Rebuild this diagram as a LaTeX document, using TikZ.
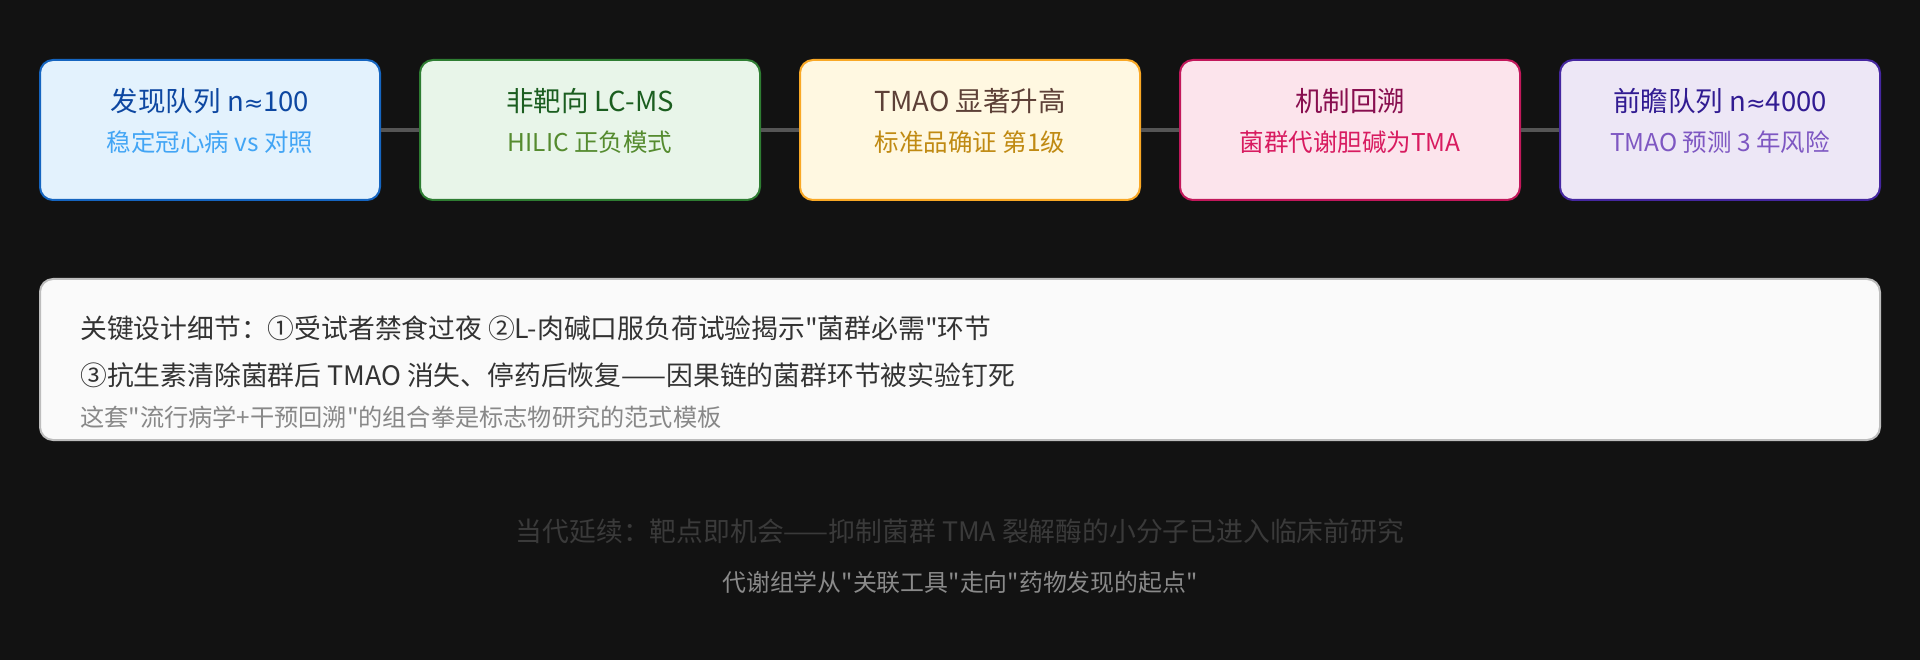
\documentclass[tikz,border=0pt]{standalone}
\usepackage{fontspec}
\setmainfont{Noto Sans CJK SC}[Ligatures=TeXOff]
\newfontfamily\symfont{DejaVu Sans}
\newcommand{\apx}{{\symfont\fontsize{0.85em}{1em}\selectfont ≈}}
\definecolor{bgc}{HTML}{121212}
\definecolor{fA}{HTML}{E3F2FD}\definecolor{dA}{HTML}{1565C0}\definecolor{tA}{HTML}{0D47A1}\definecolor{sA}{HTML}{42A5F5}
\definecolor{fB}{HTML}{E8F5E9}\definecolor{dB}{HTML}{2E7D32}\definecolor{tB}{HTML}{1B5E20}\definecolor{sB}{HTML}{558B2F}
\definecolor{fC}{HTML}{FFF8E1}\definecolor{dC}{HTML}{F9A825}\definecolor{tC}{HTML}{5D4037}\definecolor{sC}{HTML}{C08A12}
\definecolor{fD}{HTML}{FCE4EC}\definecolor{dD}{HTML}{C2185B}\definecolor{tD}{HTML}{880E4F}\definecolor{sD}{HTML}{D81B60}
\definecolor{fE}{HTML}{EDE7F6}\definecolor{dE}{HTML}{4527A0}\definecolor{tE}{HTML}{311B92}\definecolor{sE}{HTML}{7E57C2}
\definecolor{pfill}{HTML}{FAFAFA}\definecolor{pdraw}{HTML}{BDBDBD}
\definecolor{ptext}{HTML}{333333}\definecolor{pgray}{HTML}{888888}
\definecolor{conn}{HTML}{555555}
\definecolor{dimA}{HTML}{3A3A3A}\definecolor{dimB}{HTML}{8A8A8A}
\begin{document}
\begin{tikzpicture}[x=1pt,y=-1pt,
  stagebox/.style={rectangle,rounded corners=13pt,line width=2pt,minimum height=140pt,inner sep=0pt},
  ttl/.style={inner sep=0pt,font=\fontsize{27.5}{32}\selectfont},
  sub/.style={inner sep=0pt,font=\fontsize{24.5}{29}\selectfont},
  ptxt/.style={inner sep=0pt,anchor=west,font=\fontsize{26.8}{32}\selectfont,text=ptext},
  link/.style={draw=conn,line width=3.5pt}]
\fill[bgc] (0,0) rectangle (1920,660);
\useasboundingbox (0,0) rectangle (1920,660);
% stage boxes
\node[stagebox,fill=fA,draw=dA,minimum width=340pt] (b1) at (210,130) {};
\node[stagebox,fill=fB,draw=dB,minimum width=340pt] (b2) at (590,130) {};
\node[stagebox,fill=fC,draw=dC,minimum width=340pt] (b3) at (970,130) {};
\node[stagebox,fill=fD,draw=dD,minimum width=340pt] (b4) at (1350,130) {};
\node[stagebox,fill=fE,draw=dE,minimum width=320pt] (b5) at (1720,130) {};
% connectors
\draw[link] (b1.east) -- (b2.west);
\draw[link] (b2.east) -- (b3.west);
\draw[link] (b3.east) -- (b4.west);
\draw[link] (b4.east) -- (b5.west);
% titles and subtitles
\node[ttl,text=tA] (t1) at (210,101) {发现队列 n\apx100};
\node[sub,text=sA] (s1) at (210,142) {稳定冠心病 vs 对照};
\node[ttl,text=tB] (t2) at (590,101) {非靶向 LC-MS};
\node[sub,text=sB] (s2) at (590,142) {HILIC 正负模式};
\node[ttl,text=tC] (t3) at (970,101) {TMAO 显著升高};
\node[sub,text=sC] (s3) at (970,142) {标准品确证 第1级};
\node[ttl,text=tD] (t4) at (1350,101) {机制回溯};
\node[sub,text=sD] (s4) at (1350,142) {菌群代谢胆碱为TMA};
\node[ttl,text=tE] (t5) at (1720,101) {前瞻队列 n\apx4000};
\node[sub,text=sE] (s5) at (1720,142) {TMAO 预测 3 年风险};
% panel
\node[rectangle,rounded corners=13pt,line width=2pt,fill=pfill,draw=pdraw,minimum width=1840pt,minimum height=161pt,inner sep=0pt] (panel) at (960,359.5) {};
\node[ptxt] (p1) at (80,328) {关键设计细节：①受试者禁食过夜 ②L-肉碱口服负荷试验揭示"菌群必需"环节};
\node[ptxt] (p2) at (80,375) {③抗生素清除菌群后 TMAO 消失、停药后恢复——因果链的菌群环节被实验钉死};
\node[ptxt,text=pgray,font=\fontsize{24.2}{29}\selectfont] (p3) at (80,417) {这套"流行病学+干预回溯"的组合拳是标志物研究的范式模板};
% footer
\node[inner sep=0pt,text=dimA,font=\fontsize{26.8}{31}\selectfont] (f1) at (960,531) {当代延续：靶点即机会——抑制菌群 TMA 裂解酶的小分子已进入临床前研究};
\node[inner sep=0pt,text=dimB,font=\fontsize{23.9}{29}\selectfont] (f2) at (960,582) {代谢组学从"关联工具"走向"药物发现的起点"};
\end{tikzpicture}
\end{document}
